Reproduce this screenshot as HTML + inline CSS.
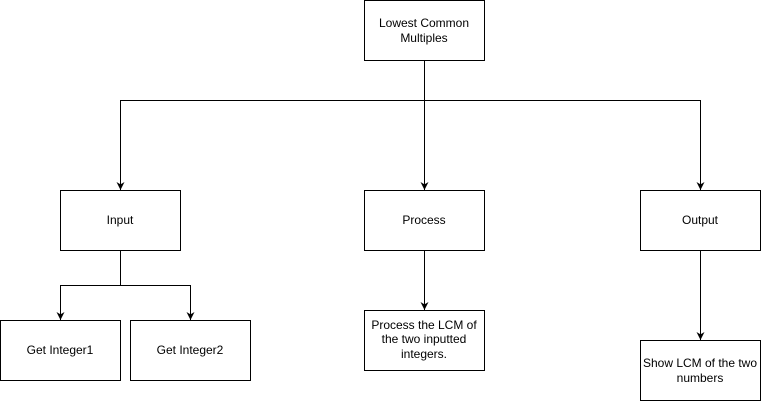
<!DOCTYPE html>
<html><head><style>
html,body{margin:0;padding:0;background:#fff;}
svg text{font-family:"Liberation Sans",Arial,sans-serif;font-size:12px;}
</style></head><body>
<svg width="761" height="401" viewBox="0 0 761 401" xmlns="http://www.w3.org/2000/svg">
<defs>
<marker id="b" viewBox="0 0 10 10" refX="10" refY="5" markerWidth="8" markerHeight="8" orient="auto" markerUnits="userSpaceOnUse"><path d="M0,0 L10,5 L0,10 L3,5 Z" fill="#000"/></marker></defs>
<g fill="none" stroke="#000" stroke-width="1">
<rect x="364.5" y="0.5" width="120" height="60"/>
<rect x="60.5" y="190.5" width="120" height="60"/>
<rect x="364.5" y="190.5" width="120" height="60"/>
<rect x="640.5" y="190.5" width="120" height="60"/>
<rect x="0.5" y="320.5" width="120" height="60"/>
<rect x="130.5" y="320.5" width="120" height="60"/>
<rect x="364.5" y="310.5" width="120" height="60"/>
<rect x="640.5" y="340.5" width="120" height="60"/>
<path d="M424.5 60.5 V100.5 H120.5 V190" marker-end="url(#b)"/>
<path d="M424.5 100.5 H700.5 V190" marker-end="url(#b)"/>
<path d="M424.5 100.5 V190" marker-end="url(#b)"/>
<path d="M120.5 250.5 V285.5 H60.5 V320" marker-end="url(#b)"/>
<path d="M120.5 285.5 H190.5 V320" marker-end="url(#b)"/>
<path d="M424.5 250.5 V310" marker-end="url(#b)"/>
<path d="M700.5 250.5 V340" marker-end="url(#b)"/>
</g>
<g fill="#000" text-anchor="middle">
<text x="424" y="27">Lowest Common</text>
<text x="424" y="42">Multiples</text>
<text x="120" y="224">Input</text>
<text x="424" y="224">Process</text>
<text x="700" y="224">Output</text>
<text x="60" y="354">Get Integer1</text>
<text x="190" y="354">Get Integer2</text>
<text x="424" y="329">Process the LCM of</text>
<text x="424" y="343">the two inputted</text>
<text x="424" y="358">integers.</text>
<text x="700" y="367">Show LCM of the two</text>
<text x="700" y="382">numbers</text>
</g>
</svg>
</body></html>
